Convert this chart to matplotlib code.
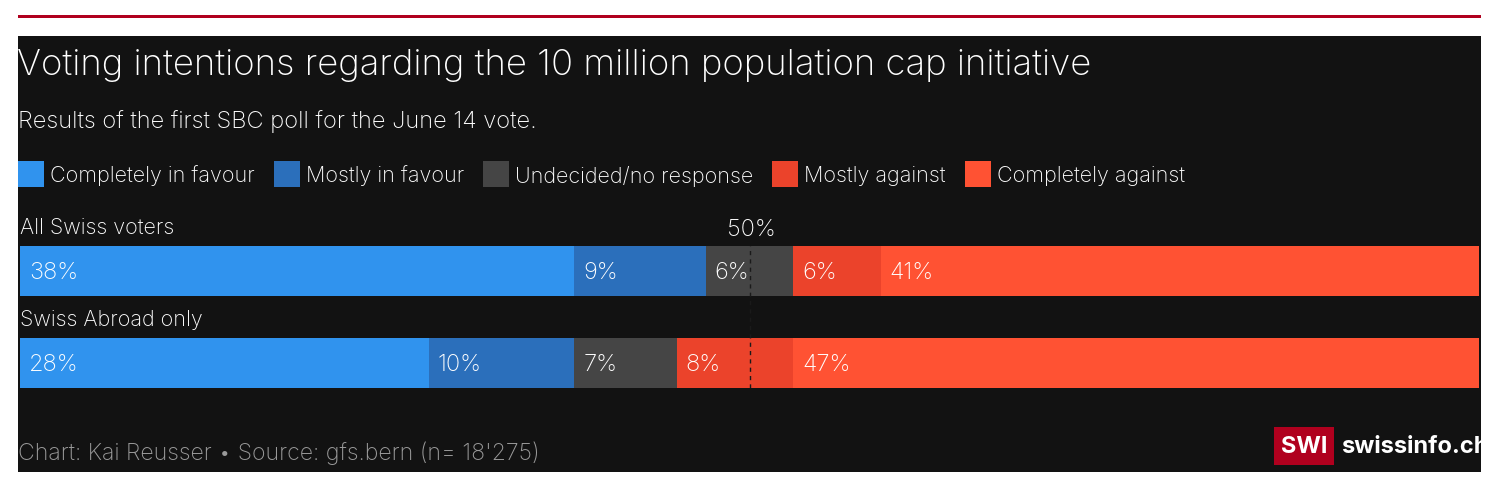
import matplotlib.pyplot as plt

# Data
groups = ['All Swiss voters', 'Swiss Abroad only']
categories = ['Completely in favour', 'Mostly in favour', 'Undecided/no response',
              'Mostly against', 'Completely against']
values = [
    [38, 9, 6, 6, 41],
    [28, 10, 7, 8, 47],
]
colors = ['#3093ee', '#2b6fbb', '#454545', '#eb432b', '#ff5233']

W, H = 1492, 495
fig = plt.figure(figsize=(W / 100, H / 100), dpi=100, facecolor='white')
plt.rcParams['font.family'] = ['Inter', 'DejaVu Sans']


def fx(px):
    return px / W


def fy(py):
    return 1 - py / H


# red top rule and dark panel
fig.add_artist(plt.Rectangle((fx(18), fy(18)), fx(1481) - fx(18), 3 / H,
                             color='#b0001e', transform=fig.transFigure, lw=0, zorder=-5))
fig.add_artist(plt.Rectangle((fx(18), fy(472)), fx(1481) - fx(18), (472 - 36) / H,
                             color='#121212', transform=fig.transFigure, lw=0, zorder=-5))

fig.text(fx(17), fy(65), 'Voting intentions regarding the 10 million population cap initiative',
         color='white', fontsize=26.3, fontweight='light', va='center', ha='left')
fig.text(fx(18), fy(122), 'Results of the first SBC poll for the June 14 vote.',
         color='white', fontsize=17, fontweight='light', va='center', ha='left')

# legend
lx = 18
for cat, col in zip(categories, colors):
    fig.add_artist(plt.Rectangle((fx(lx), fy(187)), 26 / W, 26 / H, color=col,
                                 transform=fig.transFigure, lw=0))
    t = fig.text(fx(lx + 32), fy(176), cat, color='white', fontsize=15.5,
                 fontweight='light', va='center', ha='left')
    fig.canvas.draw()
    bb = t.get_window_extent()
    lx = bb.x1 + 19

# bars
ax = fig.add_axes([fx(20), fy(388), fx(1479) - fx(20), (388 - 246) / H])
ax.set_zorder(2)
ax.set_facecolor('none')
bar_h = 50 / 92
for i, row in enumerate(values):
    left = 0
    for v, col in zip(row, colors):
        ax.barh(i, v, left=left, height=bar_h, color=col, lw=0)
        ax.text(left + 0.6, i + 0.02, f'{v}%', color='white', fontsize=17,
                fontweight='light', va='center', ha='left')
        left += v
ax.set_xlim(0, 100)
ax.set_ylim(1 + bar_h / 2, -bar_h / 2)
ax.axvline(50, color='#1a1a1a', lw=1, ls=(0, (3, 3)))
ax.axis('off')

fig.text(fx(20), fy(228), groups[0], color='white', fontsize=15.5,
         fontweight='light', va='center', ha='left')
fig.text(fx(20), fy(320), groups[1], color='white', fontsize=15.5,
         fontweight='light', va='center', ha='left')
fig.text(fx(751), fy(230), '50%', color='white', fontsize=17,
         fontweight='light', va='center', ha='center')

# footer
fig.text(fx(18), fy(453), "Chart: Kai Reusser \u2022 Source: gfs.bern (n= 18'275)",
         color='#9a9a9a', fontsize=16.6, fontweight='light', va='center', ha='left')
fig.add_artist(plt.Rectangle((fx(1274), fy(465)), 60 / W, 38 / H, color='#b0001e',
                             transform=fig.transFigure, lw=0))
fig.text(fx(1304), fy(447), 'SWI', color='white', fontsize=17, fontweight='bold',
         va='center', ha='center')
fig.text(fx(1341), fy(447), 'swissinfo.ch', color='white', fontsize=17,
         fontweight='bold', va='center', ha='left')

fig.savefig('out.png', dpi=100, facecolor='white')
